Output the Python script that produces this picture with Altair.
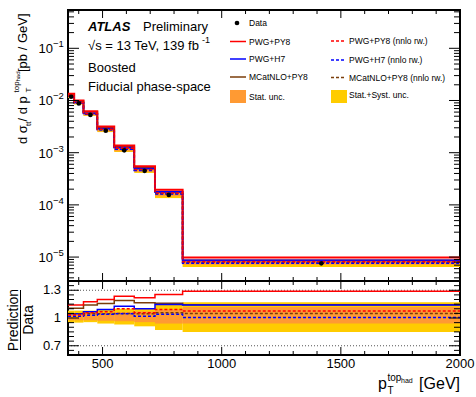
import altair as alt
import pandas as pd

# ---------------- data ----------------
edges = [355, 381, 420, 478, 549, 633, 720, 836, 2000]
data_xsec = [1.18e-2, 8.8e-3, 5.3e-3, 2.64e-3, 1.11e-3, 4.5e-4, 1.55e-4, 7.6e-6]

ratio_pwg_py8 = [1.14, 1.14, 1.175, 1.20, 1.235, 1.22, 1.255, 1.29]
ratio_pwg_h7 = [1.045, 1.045, 1.068, 1.093, 1.128, 1.10, 1.147, 1.14]
ratio_mcnlo_py8 = [1.105, 1.105, 1.14, 1.157, 1.19, 1.165, 1.16, 1.142]
ratio_pwg_py8_nnlo = [1.032, 1.032, 1.057, 1.068, 1.10, 1.057, 1.093, 1.075]
ratio_pwg_h7_nnlo = [1.02, 1.02, 1.03, 1.04, 1.047, 1.02, 1.04, 1.006]
ratio_mcnlo_py8_nnlo = [1.04, 1.04, 1.047, 1.047, 1.05, 1.045, 1.057, 1.05]

stat_lo = [0.975, 0.975, 0.975, 0.97, 0.965, 0.955, 0.94, 0.94]
stat_hi = [1.05, 1.05, 1.05, 1.055, 1.065, 1.07, 1.09, 1.12]
tot_lo = [0.95, 0.95, 0.955, 0.94, 0.93, 0.91, 0.87, 0.85]
tot_hi = [1.08, 1.08, 1.08, 1.09, 1.10, 1.10, 1.14, 1.17]

x_tick_labels = [500, 1000, 1500, 2000]
y_main_exponents = [-5, -4, -3, -2, -1]
y_ratio_labels = [0.7, 1.0, 1.3]

# ---------------- styling / layout ----------------
FONT = "Liberation Sans"
RED, BLUE, BROWN = "#ff0000", "#0000ff", "#7a3d0a"
ORANGE, YELLOW = "#ff9a33", "#ffcc00"
W, H, HM = 392, 345, 271

XS = alt.Scale(domain=[355, 2000], range=[0, W], nice=False, zero=False)
YM = alt.Scale(type="log", domain=[3.48e-6, 0.542], range=[HM, 0], nice=False)
YR = alt.Scale(domain=[0.6, 1.4], range=[H, HM], nice=False, zero=False)


def X(f):
    return alt.X(f + ":Q", scale=XS, axis=None)


def Ym(f):
    return alt.Y(f + ":Q", scale=YM, axis=None)


def Yr(f):
    return alt.Y(f + ":Q", scale=YR, axis=None)


bins = pd.DataFrame({
    "lo": edges[:-1], "hi": edges[1:], "data": data_xsec,
    "stat_lo": stat_lo, "stat_hi": stat_hi, "tot_lo": tot_lo, "tot_hi": tot_hi,
})
bins["xc"] = (bins["lo"] + bins["hi"]) / 2
for c in ["stat_lo", "stat_hi", "tot_lo", "tot_hi"]:
    bins["m_" + c] = bins["data"] * bins[c]

series = [
    ("MCatNLO+PY8", ratio_mcnlo_py8, BROWN, False),
    ("PWG+H7", ratio_pwg_h7, BLUE, False),
    ("PWG+PY8", ratio_pwg_py8, RED, False),
    ("MCatNLO+PY8 (nnlo rw.)", ratio_mcnlo_py8_nnlo, BROWN, True),
    ("PWG+H7 (nnlo rw.)", ratio_pwg_h7_nnlo, BLUE, True),
    ("PWG+PY8 (nnlo rw.)", ratio_pwg_py8_nnlo, RED, True),
]


def step_df(r):
    rs = list(r) + [r[-1]]
    ds = list(data_xsec) + [data_xsec[-1]]
    return pd.DataFrame({"x": edges, "r": rs, "m": [a * b for a, b in zip(ds, rs)]})


layers = []

# reference dotted lines in ratio panel
layers.append(
    alt.Chart(pd.DataFrame({"v": [0.7, 1.3]})).mark_rule(
        color="#555555", strokeDash=[1, 2], strokeWidth=1
    ).encode(x=alt.value(0), x2=alt.value(W), y=Yr("v"))
)

# uncertainty bands (main + ratio)
layers += [
    alt.Chart(bins).mark_rect(color=YELLOW).encode(x=X("lo"), x2="hi", y=Ym("m_tot_lo"), y2="m_tot_hi"),
    alt.Chart(bins).mark_rect(color=ORANGE).encode(x=X("lo"), x2="hi", y=Ym("m_stat_lo"), y2="m_stat_hi"),
    alt.Chart(bins).mark_rect(color=YELLOW).encode(x=X("lo"), x2="hi", y=Yr("tot_lo"), y2="tot_hi"),
    alt.Chart(bins).mark_rect(color=ORANGE).encode(x=X("lo"), x2="hi", y=Yr("stat_lo"), y2="stat_hi"),
]

# prediction step lines
for name, r, col, dashed in series:
    df = step_df(r)
    kw = dict(color=col, interpolate="step-after")
    if dashed:
        kw["strokeDash"] = [3, 2]
    wm = 2.0 if (col == RED and not dashed) else 1.6
    layers.append(alt.Chart(df).mark_line(strokeWidth=wm, **kw).encode(x=X("x"), y=Ym("m")))
    layers.append(alt.Chart(df).mark_line(strokeWidth=1.5, **kw).encode(x=X("x"), y=Yr("r")))

# data points
layers.append(
    alt.Chart(bins).mark_circle(color="black", size=22, opacity=1).encode(x=X("xc"), y=Ym("data"))
)

# ---------------- ticks (drawn inside, ROOT style) ----------------
def yticks(vals, scale, length):
    df = pd.DataFrame({"v": vals})
    enc = alt.Y("v:Q", scale=scale, axis=None)
    return [
        alt.Chart(df).mark_rule(color="black", strokeWidth=1).encode(x=alt.value(0), x2=alt.value(length), y=enc),
        alt.Chart(df).mark_rule(color="black", strokeWidth=1).encode(x=alt.value(W - length), x2=alt.value(W), y=enc),
    ]


def xticks(vals, ya, yb):
    return alt.Chart(pd.DataFrame({"v": vals})).mark_rule(color="black", strokeWidth=1).encode(
        x=X("v"), y=alt.value(ya), y2=alt.value(yb))


main_major = [10.0 ** e for e in y_main_exponents]
main_minor = [m * 10.0 ** e for e in range(-6, 0) for m in range(2, 10) if 3.48e-6 <= m * 10.0 ** e <= 0.542]
ratio_major = y_ratio_labels
ratio_minor = [round(0.6 + 0.05 * i, 2) for i in range(1, 16)]
ratio_minor = [v for v in ratio_minor if v not in (0.7, 1.0, 1.3)]
x_major = [500, 1000, 1500]
x_minor = [v for v in range(400, 2000, 100) if v not in x_major]

layers += yticks(main_major, YM, 11) + yticks(main_minor, YM, 6)
layers += yticks(ratio_major, YR, 11) + yticks(ratio_minor, YR, 6)
layers += [
    xticks(x_major, 0, 8), xticks(x_minor, 0, 4),
    xticks(x_major, HM - 8, HM), xticks(x_minor, HM - 4, HM),
    xticks(x_major, HM, HM + 8), xticks(x_minor, HM, HM + 4),
    xticks(x_major, H - 8, H), xticks(x_minor, H - 4, H),
]

# panel separator
one = pd.DataFrame({"a": [0]})
layers.append(
    alt.Chart(one).mark_rule(color="black", strokeWidth=2).encode(x=alt.value(0), x2=alt.value(W), y=alt.value(HM))
)

# ---------------- axis labels ----------------
ylab = pd.DataFrame({
    "v": [10.0 ** e for e in y_main_exponents],
    "base": ["10"] * len(y_main_exponents),
    "sup": ["\u2212" + str(-e) for e in y_main_exponents],
})
layers.append(alt.Chart(ylab).mark_text(align="right", baseline="middle", fontSize=13, font=FONT, dy=1).encode(
    x=alt.value(-15), y=Ym("v"), text="base:N"))
layers.append(alt.Chart(ylab).mark_text(align="left", baseline="middle", fontSize=9.5, font=FONT, dy=-4).encode(
    x=alt.value(-15), y=Ym("v"), text="sup:N"))

rlab = pd.DataFrame({"v": y_ratio_labels, "t": ["0.7", "1", "1.3"]})
layers.append(alt.Chart(rlab).mark_text(align="right", baseline="middle", fontSize=13, font=FONT).encode(
    x=alt.value(-7), y=Yr("v"), text="t:N"))

xlab = pd.DataFrame({"v": x_tick_labels, "t": [str(v) for v in x_tick_labels]})
layers.append(alt.Chart(xlab).mark_text(align="center", baseline="top", fontSize=13, font=FONT).encode(
    x=X("v"), y=alt.value(H + 3), text="t:N"))


def txt(text, x, y, size=13, align="left", angle=0, baseline="alphabetic", **kw):
    mk = dict(align=align, baseline=baseline, fontSize=size, font=FONT, color="black")
    if angle:
        mk["angle"] = angle
    mk.update(kw)
    return alt.Chart(pd.DataFrame({"t": [text]})).mark_text(**mk).encode(
        x=alt.value(x), y=alt.value(y), text="t:N")


# y title of main panel (rotated)
layers += [
    txt("d \u03c3", -41, 134, 13, angle=270),
    txt("tt", -37.5, 116, 8, angle=270),
    txt(" / d p", -41, 111.5, 13, angle=270),
    txt("T", -37, 82.5, 8, angle=270),
    txt("top", -49, 82.5, 8, angle=270),
    txt("had", -48, 71.5, 6, angle=270),
    txt(" [pb / GeV]", -41, 62, 13, angle=270),
]
# ratio y title
layers += [
    txt("Prediction", -50, 310, 14, align="center", angle=270),
    txt("Data", -35, 310, 14, align="center", angle=270),
    alt.Chart(one).mark_rule(color="black", strokeWidth=1).encode(
        x=alt.value(-47.5), y=alt.value(280), y2=alt.value(340)),
]
# x title
layers += [
    txt("p", 310, 379, 16),
    txt("T", 319.5, 384, 10),
    txt("top", 319.5, 371, 10),
    txt("had", 333, 373, 7),
    txt("[GeV]", W, 379, 16, align="right"),
]

# ---------------- annotations ----------------
layers += [
    txt("ATLAS", 20, 21, 13, fontWeight="bold", fontStyle="italic"),
    txt("Preliminary", 75, 21, 13),
    txt("\u221as = 13 TeV, 139 fb", 20, 40, 13),
    txt("-1", 134, 33, 9),
    txt("Boosted", 20, 61.5, 13),
    txt("Fiducial phase-space", 20, 80.5, 13),
]

# ---------------- legend ----------------
LS = 8.5
layers.append(alt.Chart(one).mark_circle(color="black", size=22, opacity=1).encode(
    x=alt.value(169), y=alt.value(13)))
layers.append(txt("Data", 181, 13, LS, baseline="middle"))
left_items = [("PWG+PY8", RED, 31.5), ("PWG+H7", BLUE, 49), ("MCatNLO+PY8", BROWN, 67)]
right_items = [("PWG+PY8 (nnlo rw.)", RED, 31), ("PWG+H7 (nnlo rw.)", BLUE, 50), ("MCatNLO+PY8 (nnlo rw.)", BROWN, 67.5)]
for name, col, yy in left_items:
    layers.append(alt.Chart(one).mark_rule(color=col, strokeWidth=1.5).encode(
        x=alt.value(162), x2=alt.value(178), y=alt.value(yy)))
    layers.append(txt(name, 181, yy, LS, baseline="middle"))
for name, col, yy in right_items:
    layers.append(alt.Chart(one).mark_rule(color=col, strokeWidth=1.5, strokeDash=[3, 2]).encode(
        x=alt.value(263), x2=alt.value(276), y=alt.value(yy)))
    layers.append(txt(name, 281, yy, LS, baseline="middle"))
layers.append(alt.Chart(one).mark_rect(color=ORANGE).encode(
    x=alt.value(162), x2=alt.value(178), y=alt.value(80), y2=alt.value(93)))
layers.append(txt("Stat. unc.", 181, 86.5, LS, baseline="middle"))
layers.append(alt.Chart(one).mark_rect(color=YELLOW).encode(
    x=alt.value(263), x2=alt.value(279), y=alt.value(80), y2=alt.value(93)))
layers.append(txt("Stat.+Syst. unc.", 281, 85, LS, baseline="middle"))

chart = alt.layer(*layers).resolve_scale(y="independent").properties(
    width=W, height=H,
    autosize=alt.AutoSizeParams(type="none"),
    padding={"left": 68, "top": 10, "right": 16, "bottom": 42},
    background="white",
).configure_view(stroke="black", strokeWidth=2)

chart.save("out.html", embed_options={"renderer": "svg", "actions": False})
